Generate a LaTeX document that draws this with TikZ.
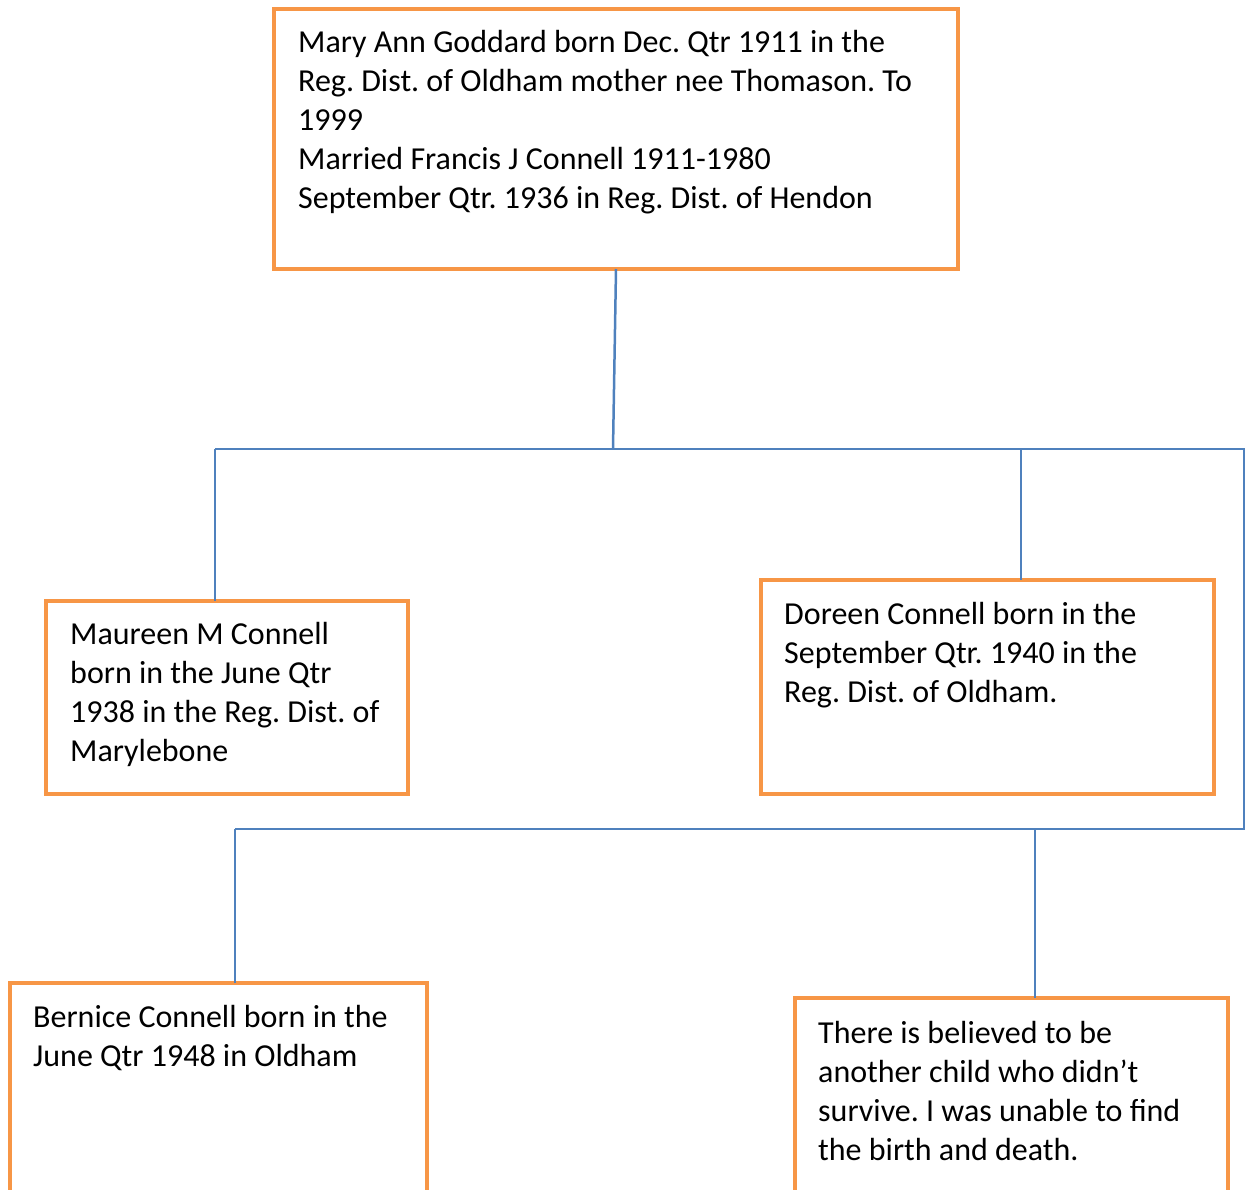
\documentclass[tikz,border=0pt]{standalone}
\usepackage{fontspec}
\setmainfont{Carlito}
\frenchspacing
\definecolor{boxorange}{HTML}{F79646}
\definecolor{lineblue}{HTML}{4F81BD}
\newcommand{\firstline}{\rule{0pt}{30pt}}
\begin{document}
\begin{tikzpicture}[x=1pt,y=-1pt,
  person/.style={draw=boxorange,line width=4.5pt,anchor=north west,inner sep=0pt,outer sep=0pt},
  label/.style={anchor=north west,align=left,inner sep=0pt,font=\fontsize{32}{39}\selectfont},
  link/.style={draw=lineblue,line width=2.5pt}]
\useasboundingbox (0,0) rectangle (1245,1189);
\clip (0,0) rectangle (1245,1189);
% boxes
\node[person,minimum width=684pt,minimum height=260pt] (top) at (274,9) {};
\node[person,minimum width=362pt,minimum height=193pt] (maureen) at (46,601) {};
\node[person,minimum width=453pt,minimum height=214pt] (doreen) at (761,580) {};
\node[person,minimum width=417pt,minimum height=260pt] (bernice) at (10,983) {};
\node[person,minimum width=433pt,minimum height=260pt] (other) at (795,998) {};
% texts (first baseline = y + 30)
\node[label] (ttop) at (298,22) {\firstline Mary Ann Goddard born Dec. Qtr 1911 in the\\Reg. Dist. of Oldham mother nee Thomason. To\\1999\\Married Francis J Connell 1911-1980\\September Qtr. 1936 in Reg. Dist. of Hendon};
\node[label] (tmaureen) at (70,614) {\firstline Maureen M Connell\\born in the June Qtr\\1938 in the Reg. Dist. of\\Marylebone};
\node[label] (tdoreen) at (784,594) {\firstline Doreen Connell born in the\\September Qtr. 1940 in the\\Reg. Dist. of Oldham.};
\node[label] (tbernice) at (33,997) {\firstline Bernice Connell born in the\\June Qtr 1948 in Oldham};
\node[label] (tother) at (818,1013) {\firstline There is believed to be\\another child who didn’t\\survive. I was unable to find\\the birth and death.};
% junctions
\coordinate (j0) at (613,449);
\coordinate (jm) at (215,449);
\coordinate (jd) at (1021,449);
\coordinate (jr) at (1244,449);
\coordinate (jr2) at (1244,829);
\coordinate (jb) at (235,829);
\coordinate (jo) at (1035,829);
% connectors
\draw[link] (top.south) -- (j0);
\draw[link] (jm) -- (jr) -- (jr2) -- (jb);
\draw[link] (jm) -- (jm |- maureen.north);
\draw[link] (jd) -- (jd |- doreen.north);
\draw[link] (jb) -- (jb |- bernice.north);
\draw[link] (jo) -- (jo |- other.north);
\end{tikzpicture}
\end{document}
